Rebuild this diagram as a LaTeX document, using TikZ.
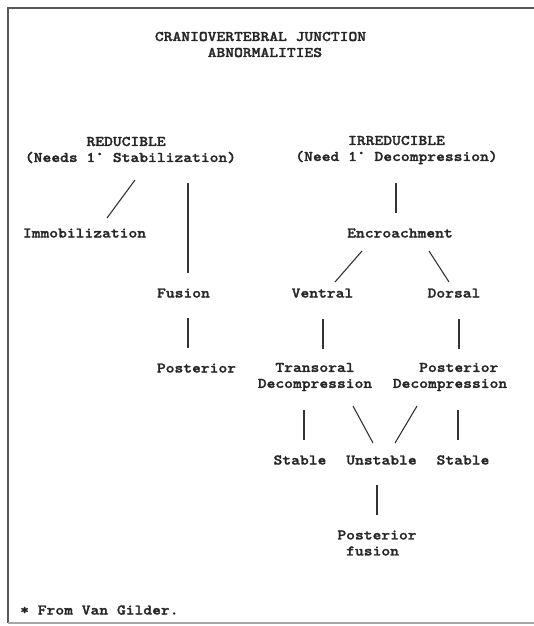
\documentclass[tikz,border=0pt]{standalone}
\usepackage{fontspec}
\newfontfamily\twfont[Extension=.otf, FakeStretch=1.14, FakeBold=1.6]{lmmonolt10-bold}
\begin{document}
\begin{tikzpicture}[x=1pt,y=-1pt,
  txt/.style={font=\twfont\fontsize{14.7}{16}\selectfont, text=black!85, inner sep=0pt, anchor=center, text height=10.5pt, text depth=1.5pt},
  mtxt/.style={font=\twfont\fontsize{14.7}{16}\selectfont, text=black!85, inner sep=0pt, anchor=center},
  conn/.style={line width=1.1pt, draw=black!80},
  frame/.style={line width=1.3pt, draw=black!65}]
\useasboundingbox (0,0) rectangle (534,626);
% frame
\draw[frame] (534,8) -- (8,8) -- (8,623);
\draw[frame, draw=black!35] (8,623) -- (534,623);

% title
\node[mtxt, align=left] (title) at (260.5,44.5) {CRANIOVERTEBRAL JUNCTION\\\phantom{XXXXXX}ABNORMALITIES};

% left branch
\node[mtxt, align=left] (red) at (130.5,150) {\phantom{XXXXXXX}REDUCIBLE\\(Needs 1° Stabilization)};
\node[txt] (immo) at (84.5,233) {Immobilization};
\node[txt] (fus) at (183.5,293) {Fusion};
\node[txt] (postA) at (196.5,368) {Posterior};

% right branch
\node[mtxt, align=center] (irr) at (396.5,150) {IRREDUCIBLE\\(Need 1° Decompression)};
\node[txt] (enc) at (400,233) {Encroachment};
\node[txt] (ven) at (322.5,293) {Ventral};
\node[txt] (dor) at (454,293) {Dorsal};
\node[mtxt, align=center] (trans) at (315,377) {Transoral\\Decompression};
\node[mtxt, align=left] (pdec) at (450,377) {\phantom{XXX}Posterior\\Decompression};
\node[txt] (st1) at (300,460) {Stable};
\node[txt] (unst) at (381.5,460) {Unstable};
\node[txt] (st2) at (463,460) {Stable};
\node[mtxt, align=left] (pf) at (377,543) {Posterior\\\phantom{X}fusion};

% footnote
\node[txt, anchor=west] (foot) at (20,610) {* From Van Gilder.};

% connector end points
\coordinate (red-immo-a) at (135,180);   \coordinate (red-immo-b) at (107,218);
\coordinate (red-fus-a) at (188,183);    \coordinate (red-fus-b) at (188,273);
\coordinate (fus-post-a) at (188,318);   \coordinate (fus-post-b) at (188,348);
\coordinate (irr-enc-a) at (396,183);    \coordinate (irr-enc-b) at (396,213);
\coordinate (enc-ven-a) at (362,251);    \coordinate (enc-ven-b) at (335,282);
\coordinate (enc-dor-a) at (429,251);    \coordinate (enc-dor-b) at (449,282);
\coordinate (ven-tr-a) at (323,319);     \coordinate (ven-tr-b) at (323,349);
\coordinate (dor-pd-a) at (459,319);     \coordinate (dor-pd-b) at (459,349);
\coordinate (tr-st-a) at (304,410);      \coordinate (tr-st-b) at (304,440);
\coordinate (tr-un-a) at (353,406);      \coordinate (tr-un-b) at (373,443);
\coordinate (pd-un-a) at (417,406);      \coordinate (pd-un-b) at (395,443);
\coordinate (pd-st-a) at (458,410);      \coordinate (pd-st-b) at (458,440);
\coordinate (un-pf-a) at (377,485);      \coordinate (un-pf-b) at (377,515);

\draw[conn] (red-immo-a) -- (red-immo-b);
\draw[conn] (red-fus-a) -- (red-fus-b);
\draw[conn] (fus-post-a) -- (fus-post-b);
\draw[conn] (irr-enc-a) -- (irr-enc-b);
\draw[conn] (enc-ven-a) -- (enc-ven-b);
\draw[conn] (enc-dor-a) -- (enc-dor-b);
\draw[conn] (ven-tr-a) -- (ven-tr-b);
\draw[conn] (dor-pd-a) -- (dor-pd-b);
\draw[conn] (tr-st-a) -- (tr-st-b);
\draw[conn] (tr-un-a) -- (tr-un-b);
\draw[conn] (pd-un-a) -- (pd-un-b);
\draw[conn] (pd-st-a) -- (pd-st-b);
\draw[conn] (un-pf-a) -- (un-pf-b);
\end{tikzpicture}
\end{document}
